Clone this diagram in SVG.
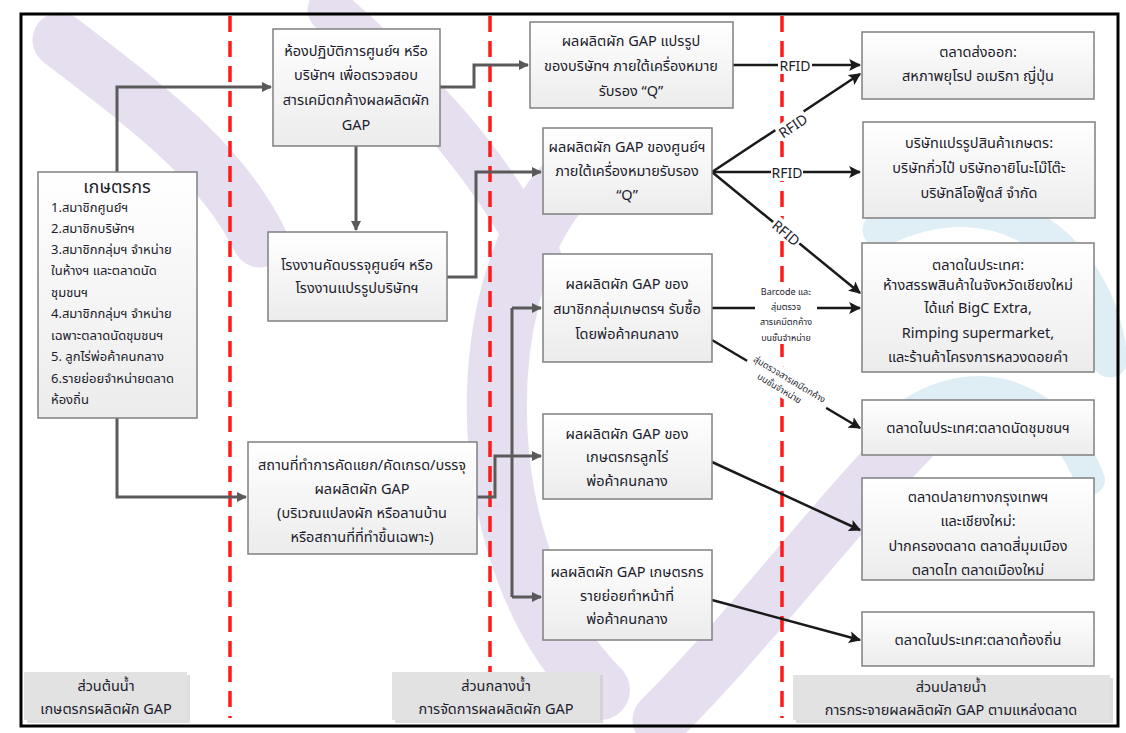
<svg xmlns="http://www.w3.org/2000/svg" width="1126" height="733" viewBox="0 0 1126 733">
<defs>
<linearGradient id="bg" x1="0" y1="0" x2="0" y2="1"><stop offset="0" stop-color="#ffffff"/><stop offset="1" stop-color="#ececec"/></linearGradient>
<marker id="ag" viewBox="0 0 10 10" refX="9" refY="5" markerWidth="10" markerHeight="10" markerUnits="userSpaceOnUse" orient="auto"><path d="M0,0 L10,5 L0,10 z" fill="#5a5a5a"/></marker>
<marker id="ab" viewBox="0 0 10 10" refX="9" refY="5" markerWidth="12" markerHeight="12" markerUnits="userSpaceOnUse" orient="auto"><path d="M0,0 L10,5 L0,10 L2,5 z" fill="#1a1a1a"/></marker>
<style>
.box{fill:url(#bg);stroke:#808080;stroke-width:1.5}
.lbl{fill:#e2e2e2}
.t{font-family:Tahoma,"Noto Sans Thai","Noto Sans","DejaVu Sans",sans-serif;font-size:14.5px;fill:#1c1c2c;text-anchor:middle}
.tl{text-anchor:start;font-size:13px}
.ttl{font-size:18px}
.sm{font-size:9px}
.rf{font-size:14px}
.g{fill:none;stroke:#5a5a5a;stroke-width:3}
.k{fill:none;stroke:#1a1a1a;stroke-width:2.5}
.red{stroke:#ff1a1a;stroke-width:3.5;stroke-dasharray:16 9}
.wm{fill:none;stroke-linecap:round}
</style>
</defs>
<rect width="1126" height="733" fill="#ffffff"/>
<g id="watermark" opacity="0.65">
<path class="wm" d="M60,40 C150,110 220,160 260,240" stroke="#d9cfe8" stroke-width="55"/>
<path class="wm" d="M330,10 C420,90 480,150 540,260" stroke="#d9cfe8" stroke-width="45"/>
<path class="wm" d="M560,190 C470,300 470,560 600,690" stroke="#d9cfe8" stroke-width="60"/>
<path class="wm" d="M660,720 C760,620 830,520 930,420" stroke="#d9cfe8" stroke-width="55"/>
<path class="wm" d="M880,230 C1000,170 1100,250 1110,360" stroke="#cfe6f0" stroke-width="35"/>
<path class="wm" d="M900,420 C980,360 1060,400 1090,480" stroke="#cfe6f0" stroke-width="30"/>
</g>
<rect x="21" y="14" width="1097" height="712" fill="none" stroke="#000" stroke-width="3"/>
<g id="dividers">
<line class="red" x1="230" y1="16" x2="230" y2="718"/>
<line class="red" x1="490" y1="16" x2="490" y2="718"/>
<line class="red" x1="782" y1="16" x2="782" y2="718"/>
</g>
<g id="connectors">
<path class="g" d="M117,172 V87 H271" marker-end="url(#ag)"/>
<path class="g" d="M117,418 V497 H246" marker-end="url(#ag)"/>
<path class="g" d="M356,146 V230" marker-end="url(#ag)"/>
<path class="g" d="M440,87 H474 V65 H528" marker-end="url(#ag)"/>
<path class="g" d="M447,277 H476 V172 H541" marker-end="url(#ag)"/>
<path class="g" d="M477,497 H495 V456 H512"/>
<path class="g" d="M512,308 V597"/>
<path class="g" d="M512,308 H541" marker-end="url(#ag)"/>
<path class="g" d="M512,456 H541" marker-end="url(#ag)"/>
<path class="g" d="M512,597 H541" marker-end="url(#ag)"/>
<path class="k" d="M733,65 H860" marker-end="url(#ab)" stroke-width="3"/>
<path class="k" d="M712,172 L860,74" marker-end="url(#ab)"/>
<path class="k" d="M712,172 H860" marker-end="url(#ab)"/>
<path class="k" d="M712,172 L860,293" marker-end="url(#ab)"/>
<path class="k" d="M712,308 H860" marker-end="url(#ab)" stroke-width="3"/>
<path class="k" d="M712,340 L860,428" marker-end="url(#ab)"/>
<path class="k" d="M712,462 L860,530" marker-end="url(#ab)"/>
<path class="k" d="M712,600 L860,640" marker-end="url(#ab)"/>
<rect x="778" y="57" width="34" height="17" fill="#fff"/>
<text class="t rf" x="795" y="71">RFID</text>
<rect x="771" y="164" width="32" height="17" fill="#fff"/>
<text class="t rf" x="787" y="178">RFID</text>
<g transform="translate(793,126) rotate(-34)"><rect x="-17" y="-9" width="34" height="17" fill="#fff"/><text class="t rf" x="0" y="5">RFID</text></g>
<g transform="translate(786,233) rotate(40)"><rect x="-17" y="-9" width="34" height="17" fill="#fff"/><text class="t rf" x="0" y="5">RFID</text></g>
<rect x="755" y="284" width="62" height="60" fill="#fff"/>
<text class="t sm" x="786" y="295">Barcode และ</text>
<text class="t sm" x="786" y="310">สุ่มตรวจ</text>
<text class="t sm" x="786" y="325">สารเคมีตกค้าง</text>
<text class="t sm" x="786" y="341">บนชั้นจำหน่าย</text>
<g transform="translate(788,382) rotate(31)"><rect x="-46" y="-11" width="92" height="28" fill="#fff"/><text class="t sm" x="0" y="0">สุ่มตรวจสารเคมีตกค้าง</text><text class="t sm" x="-4" y="13">บนชั้นจำหน่าย</text></g>
</g>
<g id="farmer">
<rect class="box" x="38" y="172" width="159" height="246"/>
<text class="t ttl" x="117" y="193">เกษตรกร</text>
<text class="t tl" x="51" y="212">1.สมาชิกศูนย์ฯ</text>
<text class="t tl" x="51" y="233">2.สมาชิกบริษัทฯ</text>
<text class="t tl" x="51" y="254">3.สมาชิกกลุ่มฯ จำหน่าย</text>
<text class="t tl" x="51" y="275">ในห้างฯ และตลาดนัด</text>
<text class="t tl" x="51" y="297">ชุมชนฯ</text>
<text class="t tl" x="51" y="318">4.สมาชิกกลุ่มฯ จำหน่าย</text>
<text class="t tl" x="51" y="340">เฉพาะตลาดนัดชุมชนฯ</text>
<text class="t tl" x="51" y="361">5. ลูกไร่พ่อค้าคนกลาง</text>
<text class="t tl" x="51" y="383">6.รายย่อยจำหน่ายตลาด</text>
<text class="t tl" x="51" y="404">ห้องถิ่น</text>
</g>
<g id="lab">
<rect class="box" x="273" y="29" width="167" height="117"/>
<text class="t" x="356" y="56">ห้องปฏิบัติการศูนย์ฯ หรือ</text>
<text class="t" x="356" y="80">บริษัทฯ เพื่อตรวจสอบ</text>
<text class="t" x="356" y="105">สารเคมีตกค้างผลผลิตผัก</text>
<text class="t" x="356" y="130">GAP</text>
</g>
<g id="packing">
<rect class="box" x="268" y="232" width="179" height="89"/>
<text class="t" x="357" y="270">โรงงานคัดบรรจุศูนย์ฯ หรือ</text>
<text class="t" x="357" y="293">โรงงานแปรรูปบริษัทฯ</text>
</g>
<g id="sorting">
<rect class="box" x="248" y="442" width="229" height="112"/>
<text class="t" x="362" y="470">สถานที่ทำการคัดแยก/คัดเกรด/บรรจุ</text>
<text class="t" x="362" y="494">ผลผลิตผัก GAP</text>
<text class="t" x="362" y="518">(บริเวณแปลงผัก หรือลานบ้าน</text>
<text class="t" x="362" y="542">หรือสถานที่ที่ทำขึ้นเฉพาะ)</text>
</g>
<g id="processed">
<rect class="box" x="530" y="22" width="203" height="86"/>
<text class="t" x="631" y="46">ผลผลิตผัก GAP แปรรูป</text>
<text class="t" x="631" y="71">ของบริษัทฯ ภายใต้เครื่องหมาย</text>
<text class="t" x="631" y="96">รับรอง “Q”</text>
</g>
<g id="center-product">
<rect class="box" x="543" y="128" width="169" height="86"/>
<text class="t" x="627" y="152">ผลผลิตผัก GAP ของศูนย์ฯ</text>
<text class="t" x="627" y="176">ภายใต้เครื่องหมายรับรอง</text>
<text class="t" x="627" y="200">“Q”</text>
</g>
<g id="group-product">
<rect class="box" x="543" y="254" width="169" height="108"/>
<text class="t" x="627" y="289">ผลผลิตผัก GAP ของ</text>
<text class="t" x="627" y="314">สมาชิกกลุ่มเกษตรฯ รับซื้อ</text>
<text class="t" x="627" y="339">โดยพ่อค้าคนกลาง</text>
</g>
<g id="contract-product">
<rect class="box" x="543" y="414" width="169" height="85"/>
<text class="t" x="627" y="439">ผลผลิตผัก GAP ของ</text>
<text class="t" x="627" y="462">เกษตรกรลูกไร่</text>
<text class="t" x="627" y="486">พ่อค้าคนกลาง</text>
</g>
<g id="retail-product">
<rect class="box" x="543" y="550" width="169" height="90"/>
<text class="t" x="627" y="577">ผลผลิตผัก GAP เกษตรกร</text>
<text class="t" x="627" y="601">รายย่อยทำหน้าที่</text>
<text class="t" x="627" y="624">พ่อค้าคนกลาง</text>
</g>
<g id="export">
<rect class="box" x="862" y="32" width="232" height="67"/>
<text class="t" x="978" y="57">ตลาดส่งออก:</text>
<text class="t" x="978" y="81">สหภาพยุโรป อเมริกา ญี่ปุ่น</text>
</g>
<g id="company">
<rect class="box" x="863" y="122" width="232" height="96"/>
<text class="t" x="979" y="148">บริษัทแปรรูปสินค้าเกษตร:</text>
<text class="t" x="979" y="173">บริษัทกิ่วไป๋ บริษัทอายิโนะโม๊โต๊ะ</text>
<text class="t" x="979" y="198">บริษัทลีโอฟู๊ดส์ จำกัด</text>
</g>
<g id="domestic">
<rect class="box" x="862" y="243" width="232" height="129"/>
<text class="t" x="978" y="270">ตลาดในประเทศ:</text>
<text class="t" x="978" y="290">ห้างสรรพสินค้าในจังหวัดเชียงใหม่</text>
<text class="t" x="978" y="313">ได้แก่ BigC Extra,</text>
<text class="t" x="978" y="338">Rimping supermarket,</text>
<text class="t" x="978" y="362">และร้านค้าโครงการหลวงดอยคำ</text>
</g>
<g id="community-market">
<rect class="box" x="862" y="400" width="232" height="55"/>
<text class="t" x="978" y="433">ตลาดในประเทศ:ตลาดนัดชุมชนฯ</text>
</g>
<g id="terminal-market">
<rect class="box" x="862" y="478" width="232" height="102"/>
<text class="t" x="978" y="502">ตลาดปลายทางกรุงเทพฯ</text>
<text class="t" x="978" y="526">และเชียงใหม่:</text>
<text class="t" x="978" y="551">ปากครองตลาด ตลาดสี่มุมเมือง</text>
<text class="t" x="978" y="575">ตลาดไท ตลาดเมืองใหม่</text>
</g>
<g id="local-market">
<rect class="box" x="862" y="612" width="232" height="54"/>
<text class="t" x="978" y="645">ตลาดในประเทศ:ตลาดท้องถิ่น</text>
</g>
<g id="upstream-label">
<rect x="27" y="675" width="163" height="48" fill="#c8c8c8" opacity="0.6"/>
<rect class="lbl" x="24" y="672" width="163" height="48"/>
<text class="t" x="106" y="691">ส่วนต้นน้ำ</text>
<text class="t" x="106" y="714">เกษตรกรผลิตผัก GAP</text>
</g>
<g id="midstream-label">
<rect x="395" y="675" width="208" height="48" fill="#c8c8c8" opacity="0.6"/>
<rect class="lbl" x="392" y="672" width="208" height="48"/>
<text class="t" x="496" y="691">ส่วนกลางน้ำ</text>
<text class="t" x="496" y="714">การจัดการผลผลิตผัก GAP</text>
</g>
<g id="downstream-label">
<rect x="796" y="678" width="317" height="45" fill="#c8c8c8" opacity="0.6"/>
<rect class="lbl" x="793" y="675" width="317" height="45"/>
<text class="t" x="951" y="692">ส่วนปลายน้ำ</text>
<text class="t" x="951" y="715">การกระจายผลผลิตผัก GAP ตามแหล่งตลาด</text>
</g>
</svg>
